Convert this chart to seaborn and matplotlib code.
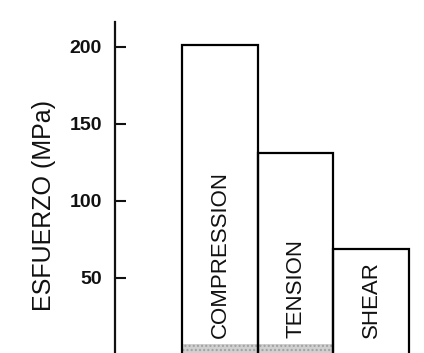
import matplotlib
matplotlib.use("Agg")
import matplotlib.pyplot as plt
import seaborn as sns
import pandas as pd

categories = ["COMPRESSION", "TENSION", "SHEAR"]
stress_mpa = [201, 131, 69]
base_band = [7, 7, 0]
yticks = [50, 100, 150, 200]

sns.set_theme(style="white")
plt.rcParams['font.family'] = ['Liberation Sans', 'DejaVu Sans']

df = pd.DataFrame({"cat": categories, "val": stress_mpa, "band": base_band})

fig = plt.figure(figsize=(4.24, 3.53), dpi=100)
ax = fig.add_axes([0.271, 0.0, 0.729, 0.9377])

sns.barplot(data=df, x="cat", y="band", ax=ax, width=0.97, color="#d0d0d0",
            edgecolor="#a8a8a8", linewidth=0, hatch="....", saturation=1, zorder=1)
sns.barplot(data=df, x="cat", y="val", ax=ax, width=1.0, fill=False,
            edgecolor="black", linewidth=1.6, zorder=2)
for p in ax.patches[:3]:
    p.set_edgecolor("#a0a0a0")
    p.set_linewidth(0)

for i, c in enumerate(categories):
    ax.text(i, 11, c, rotation=90, ha="center", va="bottom", fontsize=16,
            color="#111111", zorder=3)

ax.set_xlim(-1.39, 2.7)
ax.set_ylim(1.3, 216)
ax.set_yticks(yticks)
ax.set_yticklabels([str(t) for t in yticks], fontsize=14, fontweight="bold")
ax.tick_params(axis="y", direction="in", length=8, width=1.5, pad=9.4, colors="#111111",
               left=True)
ax.tick_params(axis="x", bottom=False, labelbottom=False)
ax.set_xlabel("")
ax.set_ylabel("ESFUERZO (MPa)", fontsize=18, color="#111111")
ax.yaxis.set_label_coords(-0.19, 0.447)
for s in ["top", "right", "bottom"]:
    ax.spines[s].set_visible(False)
ax.spines["left"].set_linewidth(1.6)
ax.spines["left"].set_color("#111111")

fig.savefig("out.png", dpi=100)
